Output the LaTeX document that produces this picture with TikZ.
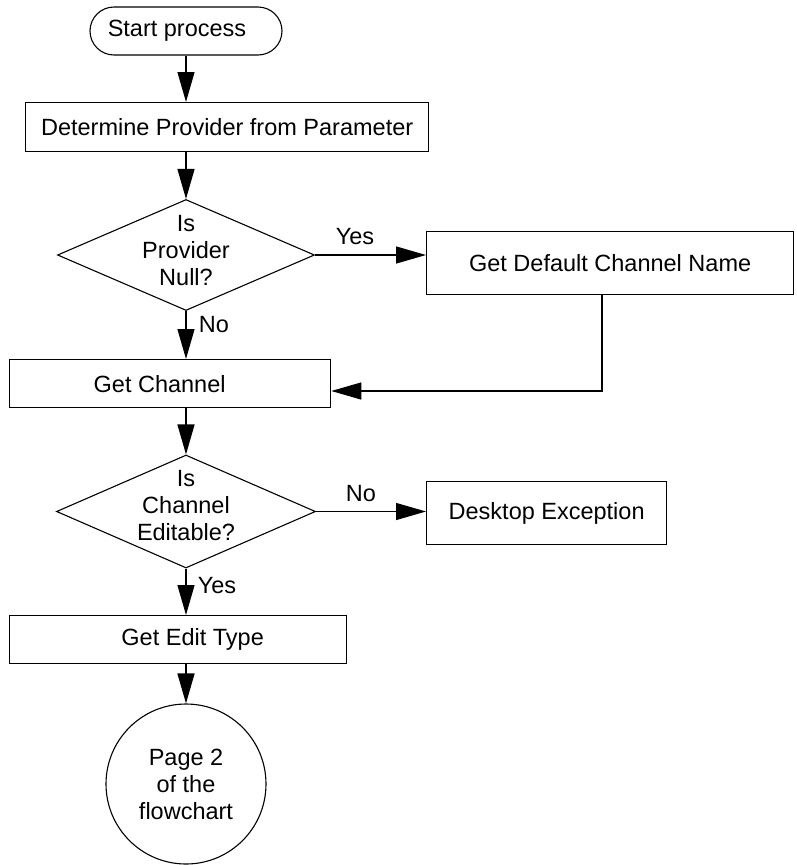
\documentclass[tikz,border=0pt]{standalone}
\usepackage{fontspec}
\setmainfont{Liberation Sans}
\usetikzlibrary{shapes.geometric,arrows.meta}
\begin{document}
\begin{tikzpicture}[x=1pt,y=-1pt,
  every node/.style={font=\fontsize{23.5}{27}\selectfont},
  box/.style={draw,line width=1.3pt,rectangle,inner sep=0pt,anchor=north west},
  dia/.style={draw,line width=1.1pt,diamond,inner sep=0pt},
  arr/.style={line width=1.3pt,-{Triangle[length=30pt,width=17pt]}},
  lbl/.style={inner sep=0pt},
  dtext/.style={align=center,inner sep=0pt}]
\useasboundingbox (0,0) rectangle (796,865);
% nodes
\node[draw,line width=1.1pt,rectangle,rounded corners=24pt,minimum width=192pt,minimum height=48pt,inner sep=0pt] (start) at (186,31) {Start process\hspace*{18pt}};
\node[box,minimum width=403pt,minimum height=49pt] (b1) at (25,102) {Determine Provider from Parameter};
\node[dia,minimum width=257pt,minimum height=111pt,label={[dtext,yshift=4pt]center:Is\\Provider\\Null?}] (d1) at (186,255) {};
\node[box,minimum width=367pt,minimum height=63pt] (b2) at (426,231) {Get Default Channel Name};
\node[box,minimum width=321pt,minimum height=48pt] (gc) at (9,359) {Get Channel\hspace*{21pt}};
\node[dia,minimum width=259pt,minimum height=113pt,label={[dtext,yshift=6pt]center:Is\\Channel\\Editable?}] (d2) at (186,511.5) {};
\node[box,minimum width=240pt,minimum height=63pt] (de) at (426,481) {Desktop Exception};
\node[box,minimum width=337pt,minimum height=48pt] (ge) at (9,615) {\hspace*{29pt}Get Edit Type};
\node[draw,line width=1.1pt,circle,minimum size=160pt,inner sep=0pt,align=center] (pg) at (186,784) {Page 2\\of the\\flowchart};
\coordinate (c1) at (602,391);
% connectors
\draw[arr] (start.south) -- (start.south |- b1.north);
\draw[arr] (b1.south -| d1.north) -- (d1.north);
\draw[arr] (d1.east) -- (d1.east -| b2.west);
\draw[arr] (d1.south) -- (d1.south |- gc.north);
\draw[arr] (b2.south -| c1) -- (c1) -- (c1 -| gc.east);
\draw[arr] (gc.south -| d2.north) -- (d2.north);
\draw[arr] (d2.east) -- (d2.east -| de.west);
\draw[arr] (d2.south) -- (d2.south |- ge.north);
\draw[arr] (ge.south -| pg.north) -- (pg.north);
% labels
\node[lbl] (yes1) at (355,237) {Yes};
\node[lbl] (no1) at (214,325) {No};
\node[lbl] (no2) at (361,494) {No};
\node[lbl] (yes2) at (217,586) {Yes};
\end{tikzpicture}
\end{document}
